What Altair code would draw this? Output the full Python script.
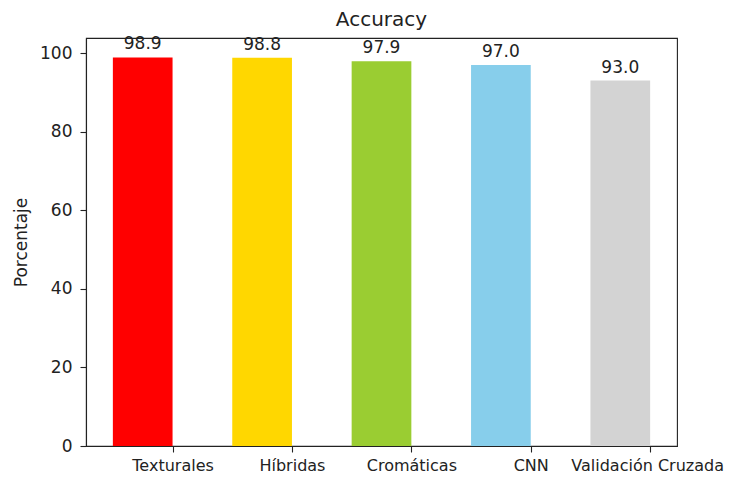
import json
import altair as alt
import pandas as pd

categories = ["Texturales", "Híbridas", "Cromáticas", "CNN", "Validación Cruzada"]
values = [98.9, 98.8, 97.9, 97.0, 93.0]
colors = ["#FF0000", "#FFD700", "#9ACD32", "#87CEEB", "#D3D3D3"]
positions = [0, 1, 2, 3, 4]
y_ticks = [0, 20, 40, 60, 80, 100]

df = pd.DataFrame({"cat": categories, "val": values, "color": colors, "pos": positions})
df["left"] = df["pos"] - 0.5
df["mid"] = df["pos"] - 0.25

FONT = "DejaVu Sans"
FS = 17

x_scale = alt.Scale(domain=[-0.725, 4.225], nice=False, zero=False)
y_scale = alt.Scale(domain=[0, 103.845], nice=False, zero=True)

label_expr = json.dumps(categories, ensure_ascii=False) + "[datum.value]"

bars = alt.Chart(df).mark_bar().encode(
    x=alt.X("left:Q", scale=x_scale,
            axis=alt.Axis(values=positions, labelExpr=label_expr, title=None, grid=False,
                          labelFlush=False, labelOverlap=False, labelPadding=5,
                          labelFontSize=16,
                          labelOffset=alt.ExprRef("datum.value == 4 ? -3 : 0"))),
    x2="pos:Q",
    y=alt.Y("val:Q", scale=y_scale,
            axis=alt.Axis(values=y_ticks, title="Porcentaje", grid=False, titlePadding=9,
                          labelPadding=8)),
    y2=alt.datum(0),
    color=alt.Color("color:N", scale=None),
)

text = alt.Chart(df).mark_text(baseline="alphabetic", dy=-8, fontSize=FS, font=FONT, color="#222222").encode(
    x=alt.X("mid:Q", scale=x_scale),
    y=alt.Y("val:Q", scale=y_scale),
    text=alt.Text("val:Q", format=".1f"),
)

chart = (bars + text).properties(
    width=591,
    height=408,
    background="white",
    autosize=alt.AutoSizeParams(type="none"),
    padding={"left": 78, "top": 30, "right": 48, "bottom": 30},
    title=alt.TitleParams("Accuracy", fontSize=20, font=FONT, fontWeight="normal",
                          color="#222222", offset=5, anchor="middle"),
).configure_view(
    stroke="#222222", strokeWidth=1.1
).configure_axis(
    domainColor="#222222", domainWidth=1.1, tickColor="#222222", tickSize=6, tickWidth=1.1,
    labelFont=FONT, labelFontSize=FS, labelColor="#222222",
    titleFont=FONT, titleFontSize=FS, titleFontWeight="normal", titleColor="#222222",
)

chart.save("out.html", embed_options={"renderer": "svg", "actions": False})
